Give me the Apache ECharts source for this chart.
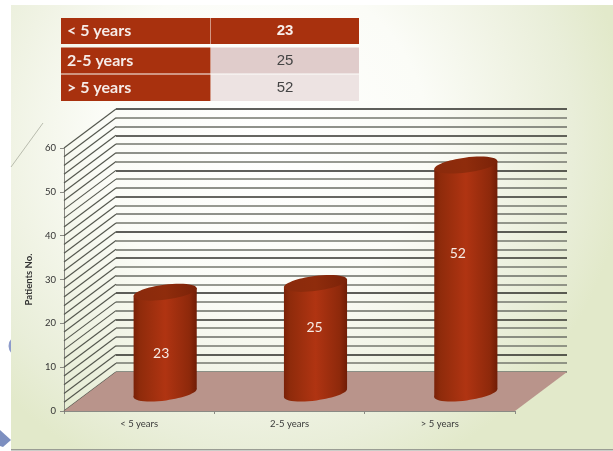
<!DOCTYPE html>
<html><head><meta charset="utf-8">
<style>html,body{margin:0;padding:0;background:#fff}#c{width:613px;height:451px}</style>
<script src="https://cdn.jsdelivr.net/npm/echarts@6/dist/echarts.min.js"></script>
</head><body><div id="c"></div>
<script>
const categories = ['< 5 years', '2-5 years', '> 5 years'];
const patients = [23, 25, 52];
const yLabelStep = 10;
const wallStep = 2;
const yMax = 60;
const yName = 'Patients No.';

// layout
const labelDrop = [61, 44, 88];
const labelShift = [-4, -1, -8];
const depthX = 52, depthY = 39, plotW = 451, plotH = 263;
const frontLeft = 64, frontTop = 148;
const tableX = [61, 211, 359];
const tableY = [[18, 44], [47.5, 73.5], [74.5, 101]];
const cellFill = ['#a8310e', '#e0cccb', '#ede3e2'];
const wallTicks = [];
for (let v = 0; v <= yMax; v += wallStep) wallTicks.push(v);

const bodyGrad = new echarts.graphic.LinearGradient(0, 0, 1, 0, [
  {offset: 0, color: '#7a2107'}, {offset: 0.1, color: '#8f2b0b'},
  {offset: 0.5, color: '#b03412'}, {offset: 0.88, color: '#8e290b'},
  {offset: 1, color: '#701d06'}]);

const g = [];
g.push({type:'circle', z:-3, silent:true, shape:{cx:19, cy:346, r:10.5}, style:{fill:'#8d9bcb'}});
g.push({type:'polygon', z:-3, silent:true, shape:{points:[[0,430],[11,440],[3,447],[0,446]]}, style:{fill:'#7d8fc0'}});
g.push({type:'rect', z:-2, silent:true, shape:{x:11,y:5,width:602,height:444},
  style:{fill:new echarts.graphic.RadialGradient(0.42,0.3,0.82,[
    {offset:0,color:'#ffffff'},{offset:0.45,color:'#fbfcf7'},{offset:0.7,color:'#f0f3e4'},{offset:0.85,color:'#e9eed9'},{offset:1,color:'#e2e9ca'}])}});
g.push({type:'rect', z:-1, silent:true, shape:{x:11,y:449,width:602,height:1.5}, style:{fill:'#9a9d94'}});
g.push({type:'line', z:-1, silent:true, shape:{x1:11,y1:167,x2:43,y2:123}, style:{stroke:'#b9bcae',lineWidth:1}});
categories.forEach((c, i) => {
  const [y0, y1] = tableY[i];
  g.push({type:'rect', silent:true, shape:{x:tableX[0],y:y0,width:tableX[1]-tableX[0]-0.5,height:y1-y0}, style:{fill:'#a8310e'}});
  g.push({type:'rect', silent:true, shape:{x:tableX[1],y:y0,width:tableX[2]-tableX[1],height:y1-y0}, style:{fill:cellFill[i]}});
  g.push({type:'text', silent:true, style:{x:67,y:(y0+y1)/2,text:c,fill:'#f6ece8',font:'bold 16px Lato',verticalAlign:'middle',textAlign:'left'}});
  g.push({type:'text', silent:true, style:{x:285,y:(y0+y1)/2,text:String(patients[i]),fill:i===0?'#f8eeea':'#444',
    font:(i===0?'bold ':'')+'15px "Liberation Sans"',verticalAlign:'middle',textAlign:'center'}});
});

const option = {
  animation:false,
  backgroundColor:'transparent',
  graphic:{elements:g},
  grid:[
    {left:frontLeft, top:frontTop, width:plotW, height:plotH},
    {left:frontLeft+depthX, top:frontTop-depthY, width:plotW, height:plotH},
    {left:frontLeft+depthX/2, top:frontTop-depthY/2+1.5, width:plotW, height:plotH}
  ],
  xAxis:[
    {type:'category', gridIndex:0, data:categories,
      axisLine:{show:true,lineStyle:{color:'#8a8a84',width:1}},
      axisTick:{show:true,alignWithLabel:false,length:3,lineStyle:{color:'#8a8a84'}},
      axisLabel:{color:'#3a3a3a',fontSize:9.5,fontFamily:'Lato',margin:8}},
    {type:'category', gridIndex:1, data:categories, show:false},
    {type:'category', gridIndex:2, data:categories, show:false}
  ],
  yAxis:[
    {type:'value', gridIndex:0, min:0, max:yMax, interval:yLabelStep,
      name:yName, nameLocation:'middle', nameGap:22, nameRotate:90,
      nameTextStyle:{color:'#333',fontSize:9.5,fontFamily:'Lato',fontWeight:'bold'},
      axisLine:{show:true,lineStyle:{color:'#8a8a84',width:1}},
      axisTick:{show:true,length:4,lineStyle:{color:'#8a8a84'}},
      axisLabel:{color:'#333',fontSize:9.5,fontFamily:'Lato',margin:8},
      splitLine:{show:false}},
    {type:'value', gridIndex:1, min:0, max:yMax, interval:wallStep,
      axisLine:{show:false},axisTick:{show:false},axisLabel:{show:false},
      splitLine:{show:true,lineStyle:{width:1.5,color:['#6a6d64','#74776e','#2a2a26','#74776e','#6a6d64','#74776e','#33332e']}}},
    {type:'value', gridIndex:2, min:0, max:yMax, show:false, splitLine:{show:false}}
  ],
  series:[
    {type:'custom', xAxisIndex:0, yAxisIndex:0, z:1, silent:true,
      data:wallTicks.map(v=>[0,v]),
      renderItem(params, api){
        const cs = params.coordSys, y = api.coord([0, api.value(1)])[1];
        return {type:'line', shape:{x1:cs.x,y1:y,x2:cs.x+depthX,y2:y-depthY}, style:{stroke:'#55584f',lineWidth:1.2}};
      }},
    {type:'custom', xAxisIndex:0, yAxisIndex:0, z:2, silent:true,
      data:[[0,0]],
      renderItem(params, api){
        const cs = params.coordSys, y = cs.y+cs.height, r = cs.x+cs.width;
        return {type:'polygon', shape:{points:[[cs.x,y],[r,y],[r+depthX,y-depthY],[cs.x+depthX,y-depthY]]},
          style:{fill:'#b9948b'}};
      }},
    {type:'custom', xAxisIndex:2, yAxisIndex:2, z:3, silent:true,
      data:patients.map((v,i)=>[i,v]),
      renderItem(params, api){
        const i = api.value(0), top = api.coord([i, api.value(1)]), base = api.coord([i,0]);
        const hw = api.size([1,0])[0]*0.21, tilt = 0.13, lift = hw*Math.tan(tilt), rx = hw/Math.cos(tilt);
        const cx = top[0], ty = top[1], by = base[1];
        return {type:'group', children:[
          {type:'ellipse', x:cx, y:by, rotation:tilt, shape:{cx:0,cy:0,rx:rx,ry:7.5}, style:{fill:bodyGrad}},
          {type:'polygon', shape:{points:[[cx-hw,ty+lift],[cx+hw,ty-lift],[cx+hw,by-lift],[cx-hw,by+lift]]}, style:{fill:bodyGrad}},
          {type:'ellipse', x:cx, y:ty, rotation:tilt, shape:{cx:0,cy:0,rx:rx,ry:7.5},
            style:{fill:new echarts.graphic.LinearGradient(0,0,1,0,[{offset:0,color:'#8a2a0c'},{offset:0.5,color:'#8f2c0c'},{offset:1,color:'#7a2208'}])}},
          {type:'text', style:{x:cx+labelShift[i],y:ty+labelDrop[i],text:String(patients[i]),fill:'#f7ece6',font:'14px Lato',textAlign:'center',verticalAlign:'middle'}}
        ]};
      }}
  ]
};
echarts.init(document.getElementById('c'),null,{renderer:'canvas'}).setOption(option);
</script></body></html>
